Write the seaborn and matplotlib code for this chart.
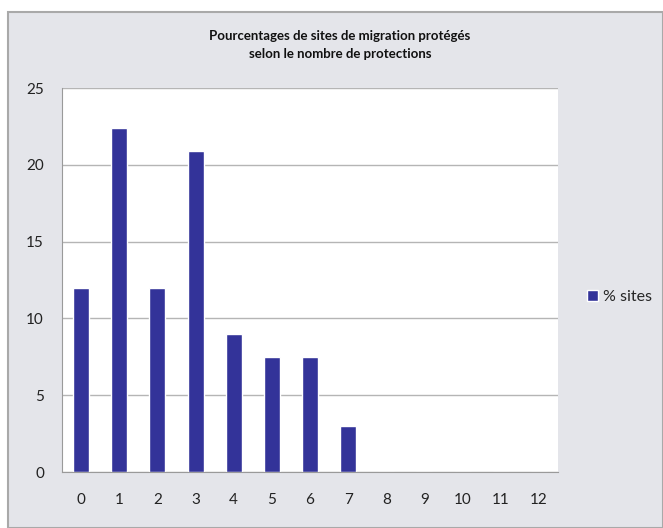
import numpy as np
import pandas as pd
import matplotlib
matplotlib.use("Agg")
import matplotlib.pyplot as plt
import seaborn as sns
from matplotlib.patches import Rectangle

# data
nb_protections = ["0", "1", "2", "3", "4", "5", "6", "7", "8", "9", "10", "11", "12"]
pct_sites = [12, 22.4, 12, 20.9, 9, 7.5, 7.5, 3, 0, 0, 0, 0, 0]
y_ticks = [0, 5, 10, 15, 20, 25]

sns.set_style("white")
plt.rcParams['font.family'] = ['Lato', 'DejaVu Sans']

df = pd.DataFrame({"protections": nb_protections, "pct": pct_sites})

fig = plt.figure(figsize=(6.63, 5.28), dpi=100)
fig.patch.set_facecolor("white")
# chart frame (Excel-like gray area)
fig.patches.append(Rectangle((8 / 663, 0), 1 - 8 / 663, 1 - 12 / 528, transform=fig.transFigure,
                             facecolor="#e4e5ea", edgecolor="#a9a9a9", linewidth=1.5, zorder=-10))

ax = fig.add_axes([62 / 663, 56 / 528, 496 / 663, 384 / 528])
ax.set_facecolor("white")

sns.barplot(data=df, x="protections", y="pct", color="#333399", saturation=1,
            width=0.42, label="% sites", ax=ax)

ax.set_ylim(0, 25)
ax.set_xlim(-0.5, len(nb_protections) - 0.5)
ax.set_yticks(y_ticks)
ax.yaxis.grid(True, color="#b5b5b5", linewidth=1)
ax.set_axisbelow(True)
ax.set_xlabel("")
ax.set_ylabel("")
for side in ["top", "right"]:
    ax.spines[side].set_visible(False)
ax.spines["left"].set_color("#9a9a9a")
ax.spines["bottom"].set_color("#9a9a9a")
ax.tick_params(axis="y", length=4, color="#9a9a9a", labelsize=11, labelcolor="#222222", pad=9)
ax.tick_params(axis="x", length=0, labelsize=11, labelcolor="#222222", pad=15)
# small tick marks between categories, as in the original
ax.set_xticks(np.arange(-0.5, len(nb_protections)), minor=True)
ax.tick_params(axis="x", which="minor", length=4, color="#9a9a9a")

fig.text(340 / 663, 1 - 45 / 528, "Pourcentages de sites de migration protégés\nselon le nombre de protections",
         ha="center", va="center", fontsize=9.5, fontweight="bold", linespacing=1.7, color="#111111")

ax.legend(loc="center left", bbox_to_anchor=(1.045, 0.455), frameon=False, fontsize=11.5,
          handlelength=0.7, handleheight=0.7, handletextpad=0.3, borderaxespad=0)

fig.savefig("out.png", dpi=100)
